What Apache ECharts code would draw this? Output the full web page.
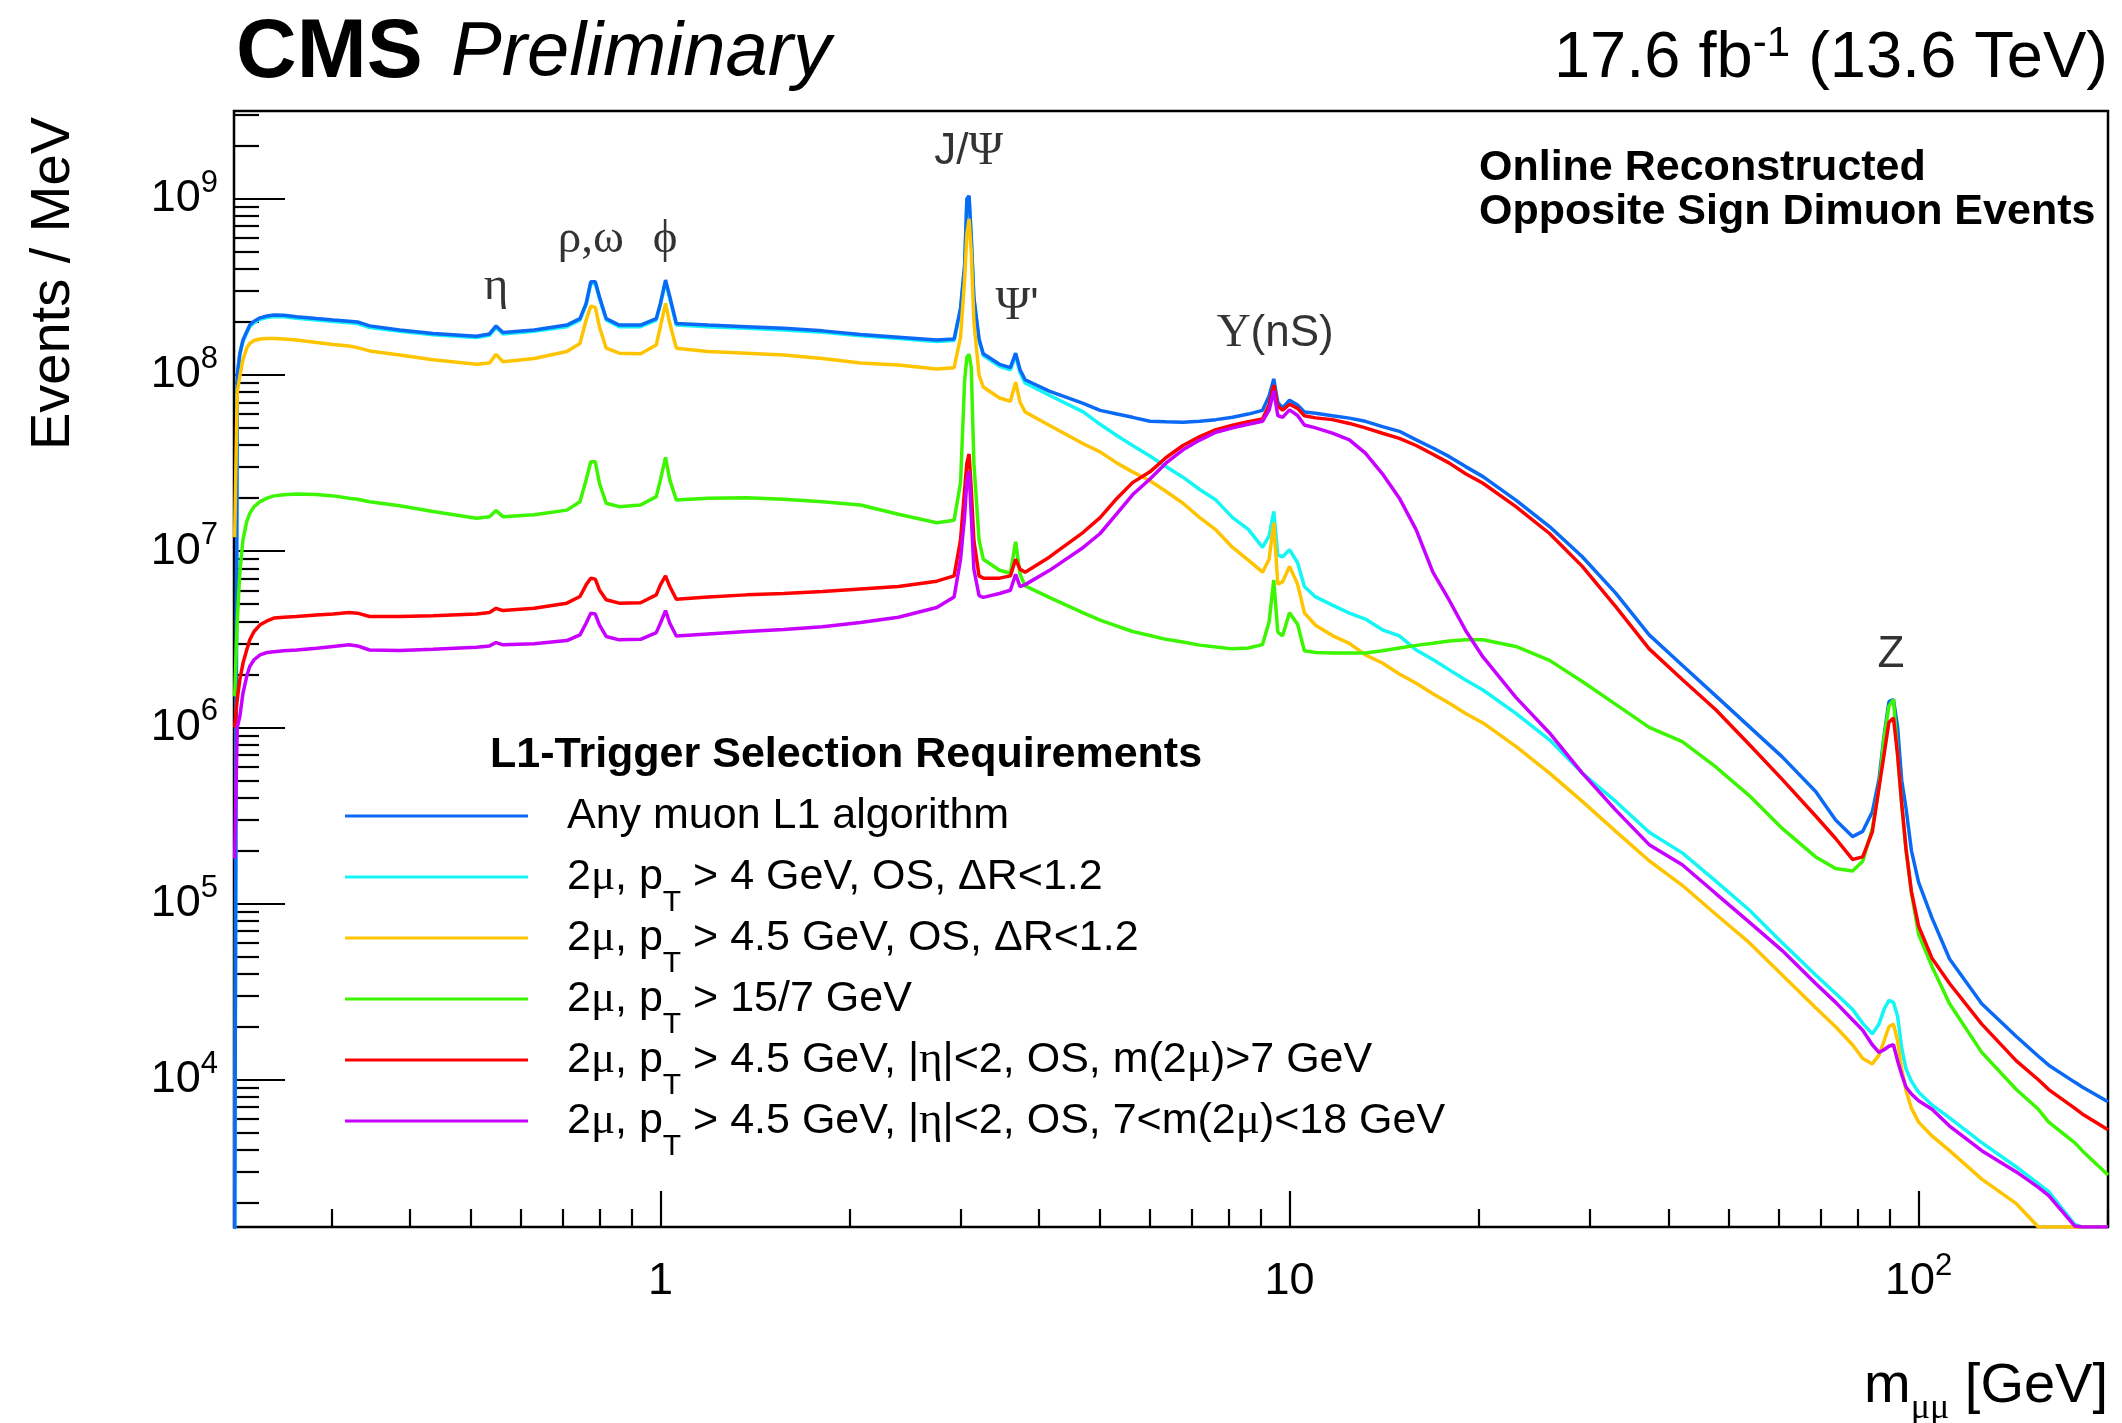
<!DOCTYPE html>
<html>
<head>
<meta charset="utf-8">
<title>Dimuon invariant mass spectrum</title>
<script src="https://cdn.jsdelivr.net/npm/echarts@6/dist/echarts.min.js"></script>
<style>
  html, body { margin: 0; padding: 0; background: #ffffff; }
  #chart { width: 2122px; height: 1423px; }
</style>
</head>
<body>
<div id="chart"></div>
<script>
// Dimuon invariant mass bins (GeV) shared by every trigger selection
const massGeV = [
  0.2105, 0.2125, 0.2145, 0.217, 0.22, 0.2225, 0.226, 0.231, 0.237, 0.243,
  0.252, 0.264, 0.284, 0.302, 0.32, 0.33, 0.345, 0.385, 0.435, 0.51,
  0.535, 0.548, 0.562, 0.63, 0.71, 0.745, 0.762, 0.775, 0.788, 0.80,
  0.82, 0.86, 0.93, 0.985, 1.0, 1.019, 1.035, 1.06, 1.19, 1.37,
  1.57, 1.81, 2.08, 2.39, 2.75, 2.93, 3.0, 3.045, 3.07, 3.095,
  3.12, 3.15, 3.21, 3.26, 3.46, 3.6, 3.67, 3.73, 3.8, 4.15,
  4.7, 5.0, 5.32, 5.63, 6.0, 6.36, 6.77, 7.2, 7.64, 8.12,
  8.6, 9.06, 9.28, 9.44, 9.58, 9.75, 10.0, 10.3, 10.56, 11.0,
  11.7, 12.45, 13.2, 14.05, 14.95, 15.9, 16.9, 17.95, 19.05, 20.3,
  22.9, 25.9, 29.2, 33.0, 37.3, 42.1, 47.6, 53.8, 60.7, 68.6,
  73.8, 78.5, 81.5, 84.4, 86.5, 88.1, 89.7, 91.2, 92.6, 94.0,
  95.5, 97.4, 100, 105, 112, 126, 143, 155, 161, 177,
  182, 200
];

// Events / MeV for each L1 selection
const anyMuon = [
  1e3, 1.0e8, 1.32e8, 1.58e8, 1.76e8, 1.92e8, 2.02e8, 2.11e8, 2.16e8, 2.19e8,
  2.18e8, 2.14e8, 2.09e8, 2.05e8, 2.02e8, 2.0e8, 1.90e8, 1.80e8, 1.72e8, 1.66e8,
  1.71e8, 1.90e8, 1.74e8, 1.80e8, 1.92e8, 2.09e8, 2.55e8, 3.38e8, 3.38e8, 2.78e8,
  2.09e8, 1.92e8, 1.92e8, 2.09e8, 2.55e8, 3.46e8, 2.78e8, 1.96e8, 1.92e8, 1.88e8,
  1.84e8, 1.78e8, 1.70e8, 1.64e8, 1.58e8, 1.60e8, 2.4e8, 4.2e8, 1.0e9, 1.04e9,
  6.0e8, 2.75e8, 1.6e8, 1.32e8, 1.15e8, 1.10e8, 1.33e8, 1.07e8, 9.4e7, 8.1e7,
  6.9e7, 6.3e7, 6.0e7, 5.75e7, 5.46e7, 5.42e7, 5.4e7, 5.47e7, 5.58e7, 5.75e7,
  6.0e7, 6.3e7, 7.6e7, 9.5e7, 7.0e7, 6.5e7, 7.2e7, 6.76e7, 6.17e7, 6.07e7,
  5.87e7, 5.69e7, 5.46e7, 5.09e7, 4.79e7, 4.28e7, 3.85e7, 3.44e7, 3.02e7, 2.65e7,
  1.95e7, 1.38e7, 9.3e6, 5.78e6, 3.35e6, 2.25e6, 1.51e6, 1.01e6, 6.8e5, 4.33e5,
  2.98e5, 2.4e5, 2.57e5, 3.31e5, 5.07e5, 8.9e5, 1.40e6, 1.44e6, 1.0e6, 5.0e5,
  3.47e5, 2.0e5, 1.32e5, 8.3e4, 4.85e4, 2.7e4, 1.76e4, 1.36e4, 1.21e4, 9.7e3,
  9.1e3, 7.5e3
];
const dimu4 = [
  1e3, 0.98e8, 1.30e8, 1.55e8, 1.73e8, 1.88e8, 1.98e8, 2.07e8, 2.12e8, 2.15e8,
  2.14e8, 2.10e8, 2.05e8, 2.01e8, 1.98e8, 1.96e8, 1.86e8, 1.77e8, 1.69e8, 1.63e8,
  1.68e8, 1.86e8, 1.71e8, 1.77e8, 1.88e8, 2.05e8, 2.50e8, 3.30e8, 3.30e8, 2.72e8,
  2.05e8, 1.88e8, 1.88e8, 2.05e8, 2.50e8, 3.38e8, 2.72e8, 1.92e8, 1.88e8, 1.84e8,
  1.80e8, 1.75e8, 1.67e8, 1.61e8, 1.55e8, 1.57e8, 2.35e8, 4.1e8, 9.8e8, 1.02e9,
  5.9e8, 2.7e8, 1.57e8, 1.29e8, 1.12e8, 1.07e8, 1.29e8, 1.03e8, 9.0e7, 7.67e7,
  6.17e7, 5.25e7, 4.52e7, 3.98e7, 3.47e7, 3.02e7, 2.63e7, 2.24e7, 1.95e7, 1.55e7,
  1.33e7, 1.05e7, 1.22e7, 1.68e7, 9.5e6, 9.3e6, 1.02e7, 8.6e6, 6.3e6, 5.5e6,
  4.94e6, 4.45e6, 4.12e6, 3.58e6, 3.31e6, 2.75e6, 2.43e6, 2.12e6, 1.86e6, 1.63e6,
  1.2e6, 8.5e5, 5.5e5, 3.8e5, 2.54e5, 1.94e5, 1.34e5, 9.2e4, 6.0e4, 3.93e4,
  3.09e4, 2.51e4, 2.09e4, 1.82e4, 2.07e4, 2.51e4, 2.82e4, 2.75e4, 2.29e4, 1.51e4,
  1.15e4, 9.8e3, 8.5e3, 7.2e3, 6.07e3, 4.4e3, 3.2e3, 2.57e3, 2.32e3, 1.51e3,
  1.46e3, 1.46e3
];
const dimu45 = [
  1.2e7, 8.0e7, 9.8e7, 1.22e8, 1.42e8, 1.51e8, 1.57e8, 1.60e8, 1.61e8, 1.61e8,
  1.60e8, 1.58e8, 1.53e8, 1.49e8, 1.46e8, 1.43e8, 1.37e8, 1.30e8, 1.22e8, 1.15e8,
  1.17e8, 1.31e8, 1.19e8, 1.24e8, 1.36e8, 1.51e8, 2.05e8, 2.46e8, 2.42e8, 1.88e8,
  1.42e8, 1.33e8, 1.32e8, 1.48e8, 1.88e8, 2.55e8, 1.96e8, 1.42e8, 1.36e8, 1.33e8,
  1.30e8, 1.24e8, 1.17e8, 1.14e8, 1.08e8, 1.10e8, 1.64e8, 3.5e8, 6.3e8, 7.7e8,
  5.0e8, 2.0e8, 1.0e8, 8.55e7, 7.4e7, 7.1e7, 9.1e7, 7.0e7, 6.17e7, 5.18e7,
  4.07e7, 3.66e7, 3.16e7, 2.82e7, 2.51e7, 2.19e7, 1.87e7, 1.55e7, 1.32e7, 1.05e7,
  8.9e6, 7.6e6, 9.0e6, 1.45e7, 6.5e6, 6.7e6, 8.2e6, 6.5e6, 4.47e6, 3.8e6,
  3.32e6, 3.0e6, 2.58e6, 2.32e6, 2.01e6, 1.78e6, 1.55e6, 1.37e6, 1.2e6, 1.06e6,
  7.8e5, 5.5e5, 3.8e5, 2.57e5, 1.75e5, 1.27e5, 8.7e4, 6.0e4, 3.93e4, 2.56e4,
  2.0e4, 1.58e4, 1.32e4, 1.23e4, 1.38e4, 1.66e4, 2.0e4, 2.07e4, 1.66e4, 1.15e4,
  8.7e3, 6.9e3, 5.75e3, 4.8e3, 3.96e3, 2.73e3, 1.98e3, 1.46e3, 1.46e3, 1.46e3,
  1.46e3, 1.46e3
];
const dimu157 = [
  1.5e6, 4.0e6, 7.5e6, 1.16e7, 1.47e7, 1.64e7, 1.79e7, 1.91e7, 2.0e7, 2.06e7,
  2.09e7, 2.11e7, 2.1e7, 2.06e7, 2.0e7, 1.97e7, 1.91e7, 1.81e7, 1.68e7, 1.54e7,
  1.57e7, 1.70e7, 1.57e7, 1.61e7, 1.71e7, 1.91e7, 2.54e7, 3.22e7, 3.22e7, 2.43e7,
  1.87e7, 1.79e7, 1.83e7, 2.04e7, 2.54e7, 3.41e7, 2.54e7, 1.95e7, 2.0e7, 2.01e7,
  1.97e7, 1.91e7, 1.83e7, 1.62e7, 1.45e7, 1.5e7, 2.45e7, 9.3e7, 1.26e8, 1.31e8,
  1.10e8, 3.16e7, 1.16e7, 9.0e6, 7.8e6, 7.5e6, 1.13e7, 7.4e6, 6.35e6, 5.47e6,
  4.47e6, 4.06e6, 3.76e6, 3.5e6, 3.32e6, 3.16e6, 3.05e6, 2.93e6, 2.86e6, 2.79e6,
  2.82e6, 2.95e6, 3.98e6, 6.86e6, 3.47e6, 3.31e6, 4.47e6, 3.85e6, 2.72e6, 2.66e6,
  2.64e6, 2.64e6, 2.64e6, 2.72e6, 2.82e6, 2.92e6, 3.0e6, 3.09e6, 3.14e6, 3.14e6,
  2.88e6, 2.4e6, 1.82e6, 1.35e6, 1.0e6, 8.3e5, 5.96e5, 4.1e5, 2.67e5, 1.84e5,
  1.58e5, 1.53e5, 1.74e5, 2.67e5, 4.56e5, 8.65e5, 1.32e6, 1.44e6, 6.98e5, 3.68e5,
  2.0e5, 1.15e5, 6.7e4, 4.4e4, 2.7e4, 1.43e4, 8.8e3, 6.8e3, 5.75e3, 4.4e3,
  3.96e3, 2.88e3
];
const dimuHighMass = [
  1.0e6, 1.44e6, 1.86e6, 2.31e6, 2.75e6, 3.14e6, 3.5e6, 3.82e6, 4.02e6, 4.17e6,
  4.22e6, 4.26e6, 4.35e6, 4.4e6, 4.49e6, 4.45e6, 4.26e6, 4.26e6, 4.3e6, 4.4e6,
  4.49e6, 4.74e6, 4.6e6, 4.74e6, 5.07e6, 5.53e6, 6.44e6, 7.03e6, 6.94e6, 6.03e6,
  5.3e6, 5.07e6, 5.1e6, 5.65e6, 6.44e6, 7.24e6, 6.3e6, 5.34e6, 5.5e6, 5.65e6,
  5.75e6, 5.9e6, 6.1e6, 6.3e6, 6.76e6, 7.24e6, 1.16e7, 2.24e7, 3.16e7, 3.56e7,
  2.24e7, 1.15e7, 7.24e6, 7.03e6, 7.03e6, 7.24e6, 9.0e6, 7.9e6, 7.6e6, 9.25e6,
  1.28e7, 1.55e7, 2.0e7, 2.45e7, 2.82e7, 3.39e7, 3.98e7, 4.47e7, 4.9e7, 5.19e7,
  5.43e7, 5.62e7, 6.76e7, 8.77e7, 6.65e7, 6.31e7, 6.82e7, 6.46e7, 5.87e7, 5.71e7,
  5.58e7, 5.31e7, 5.01e7, 4.67e7, 4.37e7, 3.98e7, 3.55e7, 3.16e7, 2.75e7, 2.43e7,
  1.79e7, 1.26e7, 8.2e6, 4.85e6, 2.79e6, 1.87e6, 1.26e6, 8.0e5, 5.07e5, 3.14e5,
  2.34e5, 1.78e5, 1.84e5, 2.54e5, 4.56e5, 6.98e5, 1.07e6, 1.13e6, 6.98e5, 3.68e5,
  2.04e5, 1.17e5, 7.45e4, 4.9e4, 3.52e4, 2.07e4, 1.28e4, 1.0e4, 8.8e3, 6.9e3,
  6.4e3, 5.2e3
];
const dimuUpsilon = [
  1.8e5, 1.0e6, 1.15e6, 1.56e6, 1.95e6, 2.22e6, 2.42e6, 2.58e6, 2.66e6, 2.69e6,
  2.72e6, 2.75e6, 2.81e6, 2.88e6, 2.94e6, 2.9e6, 2.75e6, 2.73e6, 2.78e6, 2.85e6,
  2.9e6, 3.03e6, 2.94e6, 2.98e6, 3.11e6, 3.35e6, 3.9e6, 4.45e6, 4.4e6, 3.82e6,
  3.28e6, 3.14e6, 3.16e6, 3.45e6, 3.9e6, 4.6e6, 3.9e6, 3.3e6, 3.39e6, 3.5e6,
  3.59e6, 3.73e6, 3.94e6, 4.22e6, 4.79e6, 5.5e6, 9.0e6, 1.58e7, 2.51e7, 2.85e7,
  1.58e7, 7.9e6, 5.6e6, 5.47e6, 5.75e6, 6.0e6, 7.4e6, 6.3e6, 6.46e6, 7.76e6,
  1.05e7, 1.26e7, 1.64e7, 2.09e7, 2.57e7, 3.16e7, 3.76e7, 4.27e7, 4.73e7, 5.01e7,
  5.25e7, 5.46e7, 6.31e7, 8.13e7, 5.89e7, 5.75e7, 6.34e7, 5.89e7, 5.2e7, 5.01e7,
  4.68e7, 4.28e7, 3.6e7, 2.75e7, 2.0e7, 1.32e7, 7.6e6, 5.25e6, 3.55e6, 2.51e6,
  1.48e6, 9.3e5, 5.5e5, 3.39e5, 2.16e5, 1.66e5, 1.14e5, 7.85e4, 5.41e4, 3.52e4,
  2.75e4, 2.19e4, 1.91e4, 1.58e4, 1.43e4, 1.48e4, 1.55e4, 1.58e4, 1.28e4, 1.07e4,
  9.1e3, 8.3e3, 7.6e3, 6.8e3, 5.46e3, 3.96e3, 3.0e3, 2.45e3, 2.2e3, 1.48e3,
  1.46e3, 1.46e3
];

// Legend entries (plain names) and their typeset versions
const seriesNames = [
  'Any muon L1 algorithm',
  '2μ, pT > 4 GeV, OS, ΔR<1.2',
  '2μ, pT > 4.5 GeV, OS, ΔR<1.2',
  '2μ, pT > 15/7 GeV',
  '2μ, pT > 4.5 GeV, |η|<2, OS, m(2μ)>7 GeV',
  '2μ, pT > 4.5 GeV, |η|<2, OS, 7<m(2μ)<18 GeV'
];
const legendLabels = [
  'Any muon L1 algorithm',
  '2{g|μ}, p{sub|T} > 4 GeV, OS, ΔR<1.2',
  '2{g|μ}, p{sub|T} > 4.5 GeV, OS, ΔR<1.2',
  '2{g|μ}, p{sub|T} > 15/7 GeV',
  '2{g|μ}, p{sub|T} > 4.5 GeV, |{g|η}|<2, OS, m(2{g|μ})>7 GeV',
  '2{g|μ}, p{sub|T} > 4.5 GeV, |{g|η}|<2, OS, 7<m(2{g|μ})<18 GeV'
];
const seriesColors = ['#0a6af5', '#14f5f5', '#ffc400', '#3cf500', '#ff0000', '#c800ff'];
const seriesValues = [anyMuon, dimu4, dimu45, dimu157, dimuHighMass, dimuUpsilon];
// drawing order (first drawn sits underneath)
const drawOrder = [1, 0, 2, 3, 4, 5];

// Resonance annotations: label text, mass (GeV), height (Events / MeV)
const resonanceLabels = ['{gr|η}', '{gr|ρ,ω}', '{gr|ϕ}', 'J/{gr|Ψ}', "{gr|Ψ}'", '{gr|Υ}(nS)', 'Z'];
const resonanceMass = [0.548, 0.775, 1.017, 3.09, 3.69, 9.49, 90.4];
const resonanceLevel = [3.16e8, 5.84e8, 5.84e8, 1.85e9, 2.43e8, 1.71e8, 2.57e6];

// Axis ranges and tick marks
const massRange = [0.21, 200];
const eventRange = [1460, 3.15e9];
const massLabelTicks = [1, 10, 100];
const massMinorTicks = [0.3, 0.4, 0.5, 0.6, 0.7, 0.8, 0.9, 2, 3, 4, 5, 6, 7, 8, 9,
  20, 30, 40, 50, 60, 70, 80, 90, 200];
const eventLabelTicks = [1e4, 1e5, 1e6, 1e7, 1e8, 1e9];
const eventMinorTicks = [];
for (let p = 3; p <= 9; p++) {
  for (let k = 2; k <= 9; k++) {
    const t = k * Math.pow(10, p);
    if (t > eventRange[0] && t < eventRange[1]) eventMinorTicks.push(t);
  }
}

const SANS = '"Liberation Sans", Arial, Helvetica, sans-serif';
const SERIF = '"Liberation Serif", "Times New Roman", serif';
const lg = Math.log10;

const massAxisLabel = v => {
  const e = Math.round(v);
  if (e === 0) return '1';
  if (e === 1) return '10';
  return '10{sup|' + e + '}';
};

const baseAxis = () => ({
  type: 'value',
  splitLine: { show: false },
  axisLine: { show: false, onZero: false }
});

const tickStyle = { color: '#000', width: 2.2 };

const xMain = Object.assign(baseAxis(), {
  min: lg(massRange[0]), max: lg(massRange[1]), position: 'bottom',
  axisTick: { show: true, inside: true, length: 36, customValues: massLabelTicks.map(lg),
    lineStyle: tickStyle },
  axisLabel: { show: true, customValues: massLabelTicks.map(lg), formatter: massAxisLabel,
    margin: 24, color: '#000', fontFamily: SANS, fontSize: 45, lineHeight: 62,
    rich: { sup: { fontSize: 31, lineHeight: 31, padding: [0, 0, 31, 0] } } }
});
const xMinor = Object.assign(baseAxis(), {
  min: lg(massRange[0]), max: lg(massRange[1]), position: 'bottom',
  axisLabel: { show: false },
  axisTick: { show: true, inside: true, length: 18, customValues: massMinorTicks.map(lg),
    lineStyle: tickStyle }
});
const yMain = Object.assign(baseAxis(), {
  min: lg(eventRange[0]), max: lg(eventRange[1]), position: 'left',
  axisTick: { show: true, inside: true, length: 51, customValues: eventLabelTicks.map(lg),
    lineStyle: tickStyle },
  axisLabel: { show: true, customValues: eventLabelTicks.map(lg),
    formatter: v => '10{sup|' + Math.round(v) + '}',
    margin: 16, color: '#000', fontFamily: SANS, fontSize: 45, lineHeight: 62,
    rich: { sup: { fontSize: 31, lineHeight: 31, padding: [0, 0, 31, 0] } } }
});
const yMinor = Object.assign(baseAxis(), {
  min: lg(eventRange[0]), max: lg(eventRange[1]), position: 'left',
  axisLabel: { show: false },
  axisTick: { show: true, inside: true, length: 25, customValues: eventMinorTicks.map(lg),
    lineStyle: tickStyle }
});

const lineSeries = drawOrder.map(i => ({
  name: seriesNames[i],
  type: 'line',
  xAxisIndex: 0,
  yAxisIndex: 0,
  showSymbol: false,
  symbol: 'none',
  clip: true,
  lineStyle: { color: seriesColors[i], width: 3.5 },
  itemStyle: { color: seriesColors[i] },
  emphasis: { disabled: true },
  data: massGeV.map((m, j) => [lg(m), lg(seriesValues[i][j])])
}));

const resonanceSeries = {
  name: 'resonances',
  type: 'scatter',
  xAxisIndex: 0,
  yAxisIndex: 0,
  symbolSize: 1,
  itemStyle: { color: 'rgba(0,0,0,0)' },
  emphasis: { disabled: true },
  label: {
    show: true, position: 'inside', color: '#000',
    fontFamily: SANS, fontSize: 44,
    formatter: p => resonanceLabels[p.dataIndex],
    rich: { gr: { fontFamily: SERIF, fontSize: 47 } }
  },
  data: resonanceMass.map((m, i) => [lg(m), lg(resonanceLevel[i])])
};

const chart = echarts.init(document.getElementById('chart'), null, { renderer: 'canvas' });
chart.setOption({
  animation: false,
  backgroundColor: '#ffffff',
  textStyle: { fontFamily: SANS },
  grid: { left: 234, right: 14, top: 111, bottom: 196, show: true,
    borderColor: '#000', borderWidth: 2.5, backgroundColor: 'transparent' },
  xAxis: [xMain, xMinor],
  yAxis: [yMain, yMinor],
  legend: {
    data: seriesNames,
    orient: 'vertical',
    left: 340, top: 770,
    icon: 'rect', itemWidth: 183, itemHeight: 3, itemGap: -21,
    itemStyle: { borderWidth: 0 },
    selectedMode: false,
    formatter: name => legendLabels[seriesNames.indexOf(name)],
    textStyle: {
      fontFamily: SANS, fontSize: 43, color: '#000', lineHeight: 82,
      padding: [0, 0, 0, 34],
      rich: {
        g: { fontFamily: SERIF, fontSize: 45, lineHeight: 82 },
        sub: { fontSize: 30, lineHeight: 30, padding: [52, 0, 0, 0] }
      }
    }
  },
  graphic: [
    { type: 'text', x: 236, y: 54, style: { text: 'CMS', fontFamily: SANS, fontWeight: 'bold',
      fontSize: 84, fill: '#000', verticalAlign: 'middle' } },
    { type: 'text', x: 451, y: 54, style: { text: 'Preliminary', fontFamily: SANS, fontStyle: 'italic',
      fontSize: 76, fill: '#000', verticalAlign: 'middle' } },
    { type: 'text', x: 2108, y: 59, style: { text: '17.6 fb{sup|-1} (13.6 TeV)', fontFamily: SANS,
      fontSize: 65, lineHeight: 72, fill: '#000', align: 'right', verticalAlign: 'middle',
      rich: { sup: { fontSize: 42, lineHeight: 42, padding: [0, 0, 30, 0] } } } },
    { type: 'text', x: 1479, y: 168, style: { text: 'Online Reconstructed', fontFamily: SANS,
      fontWeight: 'bold', fontSize: 43, fill: '#000', verticalAlign: 'middle' } },
    { type: 'text', x: 1479, y: 212, style: { text: 'Opposite Sign Dimuon Events', fontFamily: SANS,
      fontWeight: 'bold', fontSize: 43, fill: '#000', verticalAlign: 'middle' } },
    { type: 'text', x: 490, y: 755, style: { text: 'L1-Trigger Selection Requirements', fontFamily: SANS,
      fontWeight: 'bold', fontSize: 43, fill: '#000', verticalAlign: 'middle' } },
    { type: 'text', x: 54, y: 117, rotation: Math.PI / 2, style: { text: 'Events / MeV', fontFamily: SANS,
      fontSize: 56, fill: '#000', align: 'right', verticalAlign: 'middle' } },
    { type: 'text', x: 2108, y: 1387, style: { text: 'm{s|μμ} [GeV]', fontFamily: SANS,
      fontSize: 56, lineHeight: 80, fill: '#000', align: 'right', verticalAlign: 'middle',
      rich: { s: { fontFamily: SERIF, fontSize: 36, lineHeight: 36, padding: [44, 0, 0, 0] } } } }
  ],
  series: lineSeries.concat([resonanceSeries])
});
</script>
</body>
</html>
